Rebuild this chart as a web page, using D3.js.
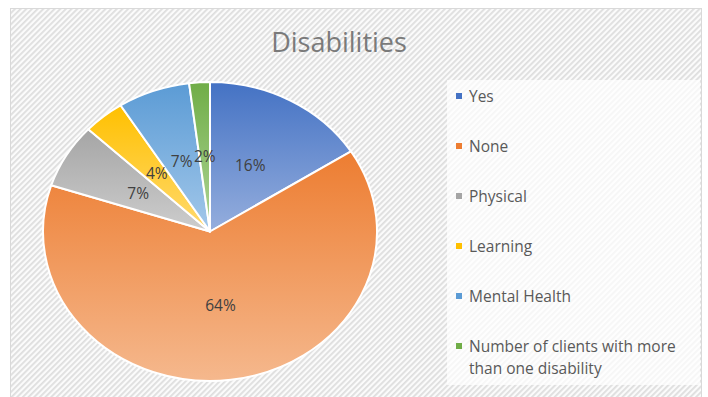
<!DOCTYPE html>
<html>
<head>
<meta charset="utf-8">
<script src="https://cdn.jsdelivr.net/npm/d3@7"></script>
<style>
  html, body { margin: 0; padding: 0; background: #ffffff; }
  svg { display: block; }
</style>
</head>
<body>
<svg id="chart" width="708" height="397"></svg>
<script>
// Disability breakdown of clients (percent)
const categories = ["Yes", "None", "Physical", "Learning", "Mental Health",
  "Number of clients with more than one disability"];
const values = [16, 64, 7, 4, 7, 2];
const legendLines = [["Yes"], ["None"], ["Physical"], ["Learning"], ["Mental Health"],
  ["Number of clients with more", "than one disability"]];
const baseColors = ["#4472C4", "#ED7D31", "#A5A5A5", "#FFC000", "#5B9BD5", "#70AD47"];
const lightColors = ["#95AEDD", "#F5B88D", "#CDCDCD", "#FFDA70", "#A3C8EA", "#AED596"];
const title = "Disabilities";

const W = 708, H = 397;
const svg = d3.select("#chart");
const defs = svg.append("defs");

// diagonal hatch backdrop
const pat = defs.append("pattern")
  .attr("id", "hatch").attr("patternUnits", "userSpaceOnUse")
  .attr("width", 4).attr("height", 4)
  .attr("patternTransform", "rotate(45)");
pat.append("rect").attr("width", 4).attr("height", 4).attr("fill", "#fbfbfb");
pat.append("rect").attr("width", 1.8).attr("height", 4).attr("fill", "#dedede");

svg.append("rect").attr("x", 0).attr("y", 0).attr("width", W).attr("height", H).attr("fill", "#ffffff");
svg.append("rect")
  .attr("x", 10.5).attr("y", 8.5).attr("width", 691).attr("height", 395)
  .attr("fill", "url(#hatch)").attr("stroke", "#d9d9d9").attr("stroke-width", 1);

// Title
svg.append("text")
  .attr("x", 339).attr("y", 52)
  .attr("text-anchor", "middle")
  .attr("font-family", "'Open Sans', sans-serif")
  .attr("font-size", 27)
  .attr("fill", "#7a7a7a")
  .text(title);

// vertical gradients per slice
categories.forEach((c, i) => {
  const g = defs.append("linearGradient")
    .attr("id", "grad" + i)
    .attr("x1", 0).attr("y1", 0).attr("x2", 0).attr("y2", 1);
  g.append("stop").attr("offset", "0%").attr("stop-color", baseColors[i]);
  g.append("stop").attr("offset", "100%").attr("stop-color", lightColors[i]);
});

// Pie (drawn as a circle, stretched horizontally)
const cx = 210, cy = 231.5, ry = 149.5, rx = 167;
const sx = rx / ry;

const pie = d3.pie().sort(null).value(d => d)(values);
const arc = d3.arc().innerRadius(0).outerRadius(ry);
const labelArc = d3.arc().innerRadius(ry * 0.5).outerRadius(ry * 0.5);

const pieG = svg.append("g").attr("transform", `translate(${cx},${cy}) scale(${sx},1)`);
pieG.selectAll("path").data(pie).join("path")
  .attr("d", arc)
  .attr("fill", (d, i) => `url(#grad${i})`)
  .attr("stroke", "#ffffff")
  .attr("stroke-width", 2)
  .attr("vector-effect", "non-scaling-stroke")
  .attr("stroke-linejoin", "round");

// Percentage labels
svg.append("g").selectAll("text").data(pie).join("text")
  .attr("x", d => cx + labelArc.centroid(d)[0] * sx)
  .attr("y", d => cy + labelArc.centroid(d)[1])
  .attr("dy", "0.35em")
  .attr("text-anchor", "middle")
  .attr("font-family", "'Open Sans', sans-serif")
  .attr("font-size", 15.5)
  .attr("fill", "#404040")
  .text(d => d.data + "%");

// Legend
const lg = svg.append("g");
lg.append("rect")
  .attr("x", 447).attr("y", 80).attr("width", 253).attr("height", 305)
  .attr("fill", "#ffffff").attr("fill-opacity", 0.72);

const rowY = d3.scalePoint().domain(d3.range(categories.length)).range([96, 346]);
categories.forEach((c, i) => {
  const y = rowY(i);
  lg.append("rect")
    .attr("x", 456).attr("y", y - 3).attr("width", 6).attr("height", 6)
    .attr("fill", baseColors[i]);
  const t = lg.append("text")
    .attr("x", 469).attr("y", y)
    .attr("font-family", "'Open Sans', sans-serif")
    .attr("font-size", 15.5)
    .attr("fill", "#595959");
  legendLines[i].forEach((line, j) => {
    t.append("tspan").attr("x", 469).attr("dy", j === 0 ? "0.36em" : "1.45em").text(line);
  });
});
</script>
</body>
</html>
